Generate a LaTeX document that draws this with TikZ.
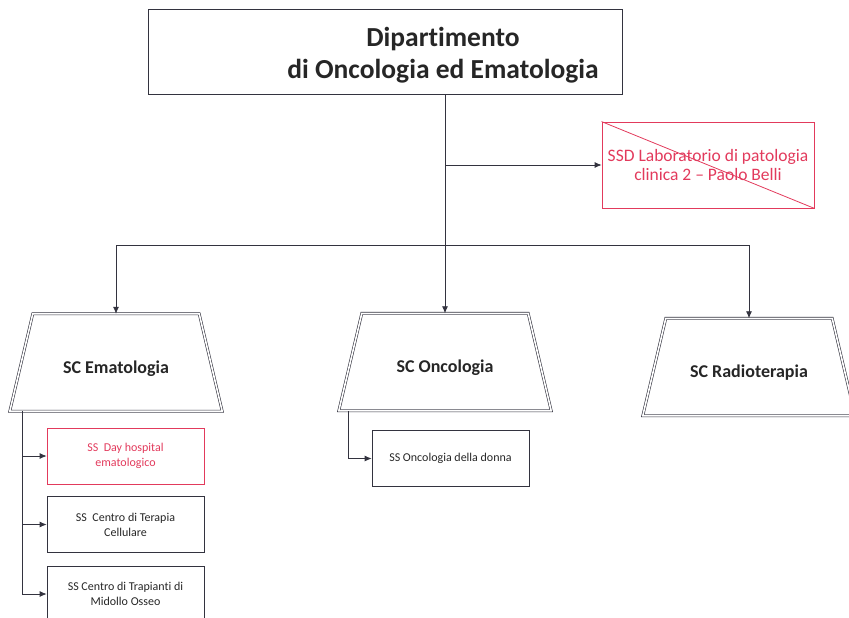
\documentclass[tikz,border=0pt]{standalone}
\usepackage{fontspec}
\setmainfont{Carlito}[RawFeature=-liga]
\usepackage{xcolor}
\usetikzlibrary{arrows.meta,positioning}
\definecolor{linecol}{HTML}{33333F}
\definecolor{crossred}{HTML}{E23A5C}
\tikzset{
  arr/.style={line width=.8pt,linecol,-{Latex[length=7pt,width=6pt]}},
  trunk/.style={line width=.8pt,linecol},
  dbl/.style={draw=linecol,double=white,double distance=1.6pt,line width=.6pt},
  deptbox/.style={rectangle,draw=linecol,line width=.8pt,minimum width=474pt,minimum height=85pt},
  depttext/.style={align=center,font=\fontsize{27.5}{32}\selectfont\bfseries,text=black!85},
  scbox/.style={rectangle,minimum width=166pt,minimum height=97pt,text height=25pt,text depth=4pt,
    font=\fontsize{18}{20}\selectfont\bfseries,text=black!85},
  ssdbox/.style={rectangle,draw=crossred,line width=.8pt,minimum width=212pt,minimum height=86pt,
    align=center,text=crossred,font=\fontsize{17.5}{19}\selectfont},
  ssbox/.style={rectangle,draw=linecol,line width=.7pt,minimum width=157pt,minimum height=56pt,
    align=center,text=black!85,font=\fontsize{12}{15}\selectfont},
  ssred/.style={ssbox,draw=crossred,text=crossred}
}
\newcommand{\sctrap}[1]{%
  \draw[dbl] (#1.north west) -- (#1.north east) -- ([xshift=23pt]#1.south east)
    -- ([xshift=-23pt]#1.south west) -- cycle;}
\begin{document}
\begin{tikzpicture}[x=1pt,y=-1pt]
  \useasboundingbox (0,0) rectangle (849,618);
  \clip (0,0) rectangle (849,618);
  % department
  \node[deptbox] (dipbox) at (385,52) {};
  \node[depttext] (dip) at (443,55) {Dipartimento\\di Oncologia ed Ematologia};
  \node[ssdbox] (ssd) at (708,165) {SSD Laboratorio di patologia\\clinica 2 -- Paolo Belli};
  \draw[crossred,line width=.8pt] (ssd.north west) -- (ssd.south east);
  % structures
  \node[scbox] (ema) at (116,362.5) {SC Ematologia};
  \node[scbox] (onc) at (445,362) {SC Oncologia};
  \node[scbox] (rad) at (749,367) {SC Radioterapia};
  \sctrap{ema}
  \sctrap{onc}
  \sctrap{rad}
  \node[ssred] (dh) at (125.5,456) {SS\ \ Day hospital\\ematologico};
  \node[ssbox] (ctc) at (125.5,524.5) {SS\ \ Centro di Terapia\\Cellulare};
  \node[ssbox] (ctmo) at (125.5,594) {SS Centro di Trapianti di\\Midollo Osseo};
  \node[ssbox] (ond) at (450.5,458.5) {SS Oncologia della donna};
  \coordinate (top) at (445,95);
  \coordinate (jssd) at (445,165);
  \coordinate (bar) at (445,245);
  \coordinate (eS) at (22,411);
  \coordinate (oS) at (348,411);
  \draw[trunk] (top) -- (bar);
  \draw[arr] (jssd) -- (ssd.west);
  \draw[arr] (bar) -- (onc.north);
  \draw[arr] (bar) -| (ema.north);
  \draw[arr] (bar) -| (rad.north);
  \draw[arr] (eS) |- (dh.west);
  \draw[arr] (eS) |- (ctc.west);
  \draw[arr] (eS) |- (ctmo.west);
  \draw[arr] (oS) |- (ond.west);
\end{tikzpicture}
\end{document}
